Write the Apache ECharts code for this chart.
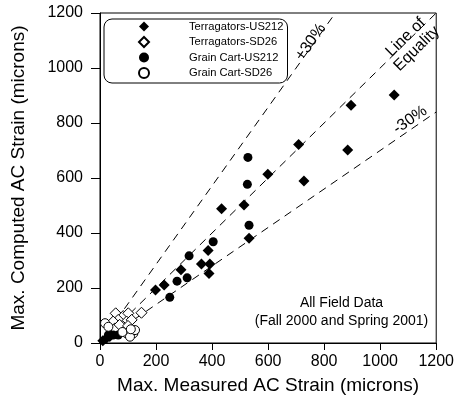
<!DOCTYPE html>
<html>
<head>
<meta charset="utf-8">
<script src="https://cdn.jsdelivr.net/npm/echarts@6/dist/echarts.min.js"></script>
<style>html,body{margin:0;padding:0;background:#fff;}#c{width:457px;height:400px;}</style>
</head>
<body>
<div id="c"></div>
<script>
// ---- data (measured, computed) in microns ----
var seriesNames = ['Terragators-US212', 'Terragators-SD26', 'Grain Cart-US212', 'Grain Cart-SD26'];
var terragatorsUS212 = [[1050,902],[896,865],[884,702],[709,722],[728,589],[599,614],[514,502],[434,488],
  [532,381],[386,336],[362,287],[392,287],[389,253],[289,266],[229,211],[198,193],[10,8],[22,16],[35,24]];
var terragatorsSD26 = [[148,110],[56,108],[83,98],[101,108],[65,84],[95,78],[47,78],[113,84],[83,59],[53,53],[70,66],[100,62]];
var grainCartUS212 = [[528,675],[526,577],[532,428],[404,368],[318,317],[311,237],[275,225],[249,166],[30,29],[47,29],[65,29]];
var grainCartSD26 = [[18,72],[95,35],[119,35],[107,23],[125,47],[30,59],[80,40],[110,50]];
var plus30Line = [[0,0],[840,1200]];
var equalityLine = [[0,0],[1200,1200]];
var minus30Line = [[0,0],[1200,840]];
var axisTicks = [0,200,400,600,800,1000,1200];
var xTitle = 'Max. Measured AC Strain (microns)';
var yTitle = 'Max. Computed AC Strain (microns)';
var annotationTexts = ['+30%', 'Line of\nEquality', '-30%', 'All Field Data\n(Fall 2000 and Spring 2001)'];
var annotationCoords = [[752,1094], [1111,1091], [1107,811], [862,112]];
var annotationAngles = [54.4, 44.4, 34.4, 0];

var FONT = 'Liberation Sans, Arial, Helvetica, sans-serif';
var chart = echarts.init(document.getElementById('c'), null, {renderer:'canvas'});

function axis(name, isX){
  return {
    type:'value', min:axisTicks[0], max:axisTicks[axisTicks.length-1], interval:200,
    name:name, nameLocation:'middle', nameGap: isX ? 33 : 72,
    nameTextStyle:{fontFamily:FONT, fontSize:19, color:'#000'},
    axisLine:{show:true, lineStyle:{color:'#000', width:1}},
    axisTick:{show:true, inside:false, length: isX ? 7 : 9, lineStyle:{color:'#000'}},
    axisLabel:{fontFamily:FONT, fontSize:16, color:'#000', margin: isX ? 11 : 17,
      formatter:function(v){return String(v);}},
    splitLine:{show:false}
  };
}

function refLine(data){
  return {type:'line', data:data, symbol:'none', silent:true, z:1,
    lineStyle:{color:'#000', width:1, type:[8,6]}, animation:false};
}
function scat(name, data, symbol, hollow, size){
  return {type:'scatter', name:name, data:data, symbol:symbol, symbolSize:size, z:3, animation:false,
    itemStyle: hollow ? {color:'#fff', borderColor:'#000', borderWidth:1, opacity:1} : {color:'#000', opacity:1}};
}

chart.setOption({
  animation:false,
  backgroundColor:'#fff',
  grid:{left:100, right:20, top:13, bottom:57, show:true, borderColor:'#000', borderWidth:1, backgroundColor:'transparent'},
  xAxis: axis(xTitle, true),
  yAxis: axis(yTitle, false),
  legend:{
    data:seriesNames, orient:'vertical', left:104, top:19,
    itemWidth:10, itemHeight:10, itemGap:4,
    padding:[2,4,4,34], borderColor:'#000', borderWidth:1, borderRadius:8,
    formatter:function(n){return '{t|'+n+'}';},
    textStyle:{fontFamily:FONT, fontSize:11.2, color:'#000',
      rich:{t:{fontFamily:FONT, fontSize:11.2, lineHeight:12, color:'#000', padding:[0,0,0,35]}}}
  },
  series:[
    refLine(plus30Line), refLine(equalityLine), refLine(minus30Line),
    scat(seriesNames[0], terragatorsUS212, 'diamond', false, 11),
    scat(seriesNames[1], terragatorsSD26, 'diamond', true, 11),
    scat(seriesNames[2], grainCartUS212, 'circle', false, 9),
    scat(seriesNames[3], grainCartSD26, 'circle', true, 9)
  ]
});

// annotations placed through the chart's own coordinate conversion
var gfx = annotationTexts.map(function(t, i){
  var p = chart.convertToPixel({gridIndex:0}, annotationCoords[i]);
  var rot = annotationAngles[i];
  return {type:'text', x:p[0], y:p[1], rotation: rot * Math.PI / 180, silent:true, z:10,
    style:{text:t, x:0, y:0, align:'center', verticalAlign:'middle',
      font: (rot ? '16px ' : '14px ') + FONT, lineHeight: rot ? 16 : 18, fill:'#000'}};
});
chart.setOption({graphic:gfx});
</script>
</body>
</html>
